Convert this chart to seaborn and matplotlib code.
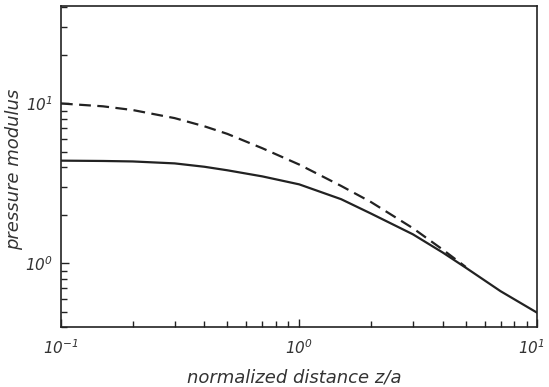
import numpy as np
import pandas as pd
import matplotlib
matplotlib.use("Agg")
import matplotlib.pyplot as plt
import matplotlib.transforms as mtransforms
import seaborn as sns

# normalized distance z/a
z_solid = [0.1, 0.15, 0.2, 0.3, 0.4, 0.5, 0.7, 1.0, 1.5, 2.0, 3.0, 4.0, 5.0, 7.0, 10.0]
p_solid = [4.39, 4.37, 4.34, 4.22, 4.02, 3.82, 3.50, 3.12, 2.52, 2.05, 1.52, 1.17, 0.94, 0.67, 0.49]

z_dashed = [0.1, 0.15, 0.2, 0.3, 0.4, 0.5, 0.7, 1.0, 1.5, 2.0, 3.0, 4.0, 5.0]
p_dashed = [10.0, 9.6, 9.1, 8.1, 7.2, 6.45, 5.25, 4.15, 3.05, 2.42, 1.66, 1.22, 0.95]

x_label = "normalized distance z/a"
y_label = "pressure modulus"

df = pd.concat([
    pd.DataFrame({"z": z_solid, "p": p_solid, "curve": "solid"}),
    pd.DataFrame({"z": z_dashed, "p": p_dashed, "curve": "dashed"}),
])

sns.set_style("ticks")
plt.rcParams.update({
    "font.family": ["DejaVu Sans"],
    "font.style": "italic",
    "mathtext.fontset": "custom",
    "mathtext.rm": "DejaVu Sans:italic",
    "mathtext.it": "DejaVu Sans:italic",
    "mathtext.default": "it",
})

ink = "#222222"
txt = "#333333"

fig = plt.figure(figsize=(5.49, 3.87), dpi=100)
ax = fig.add_axes([0.111, 0.155, 0.868, 0.8295])

sns.lineplot(data=df, x="z", y="p", style="curve", hue="curve",
             palette={"solid": ink, "dashed": ink},
             dashes={"solid": "", "dashed": (5.3, 2.9)},
             linewidth=1.6, legend=False, ax=ax, sort=False)

ax.set_xscale("log")
ax.set_yscale("log")
ax.set_xlim(0.1, 10)
ax.set_ylim(0.40, 40.7)

ax.set_xticks([0.1, 1, 10])
ax.set_xticklabels([r"$10^{-1}$", r"$10^{0}$", r"$10^{1}$"])
ax.set_yticks([1, 10])
ax.set_yticklabels([r"$10^{0}$", r"$10^{1}$"])

ax.tick_params(which="major", direction="in", length=6, width=1.0, color=ink,
               labelsize=11, labelcolor=txt, pad=8)
ax.tick_params(axis="y", which="major", pad=6)
ax.tick_params(which="minor", direction="in", length=4.3, width=1.0, color=ink)
ax.tick_params(axis="x", which="both", top=False)
ax.tick_params(axis="y", which="both", right=False)

# keep the last x tick label inside the figure edge
last = ax.get_xticklabels()[-1]
last.set_transform(last.get_transform() +
                   mtransforms.ScaledTranslation(-6 / 100, 0, fig.dpi_scale_trans))

for s in ax.spines.values():
    s.set_linewidth(1.2)
    s.set_color(ink)

ax.set_xlabel(x_label, fontsize=13, color=txt)
ax.set_ylabel(y_label, fontsize=13, color=txt)
ax.xaxis.set_label_coords(0.49, -0.156)
ax.yaxis.set_label_coords(-0.098, 0.49)
ax.xaxis.label.set_va("center")
ax.yaxis.label.set_va("center")

fig.savefig("out.png", dpi=100, facecolor="white")
